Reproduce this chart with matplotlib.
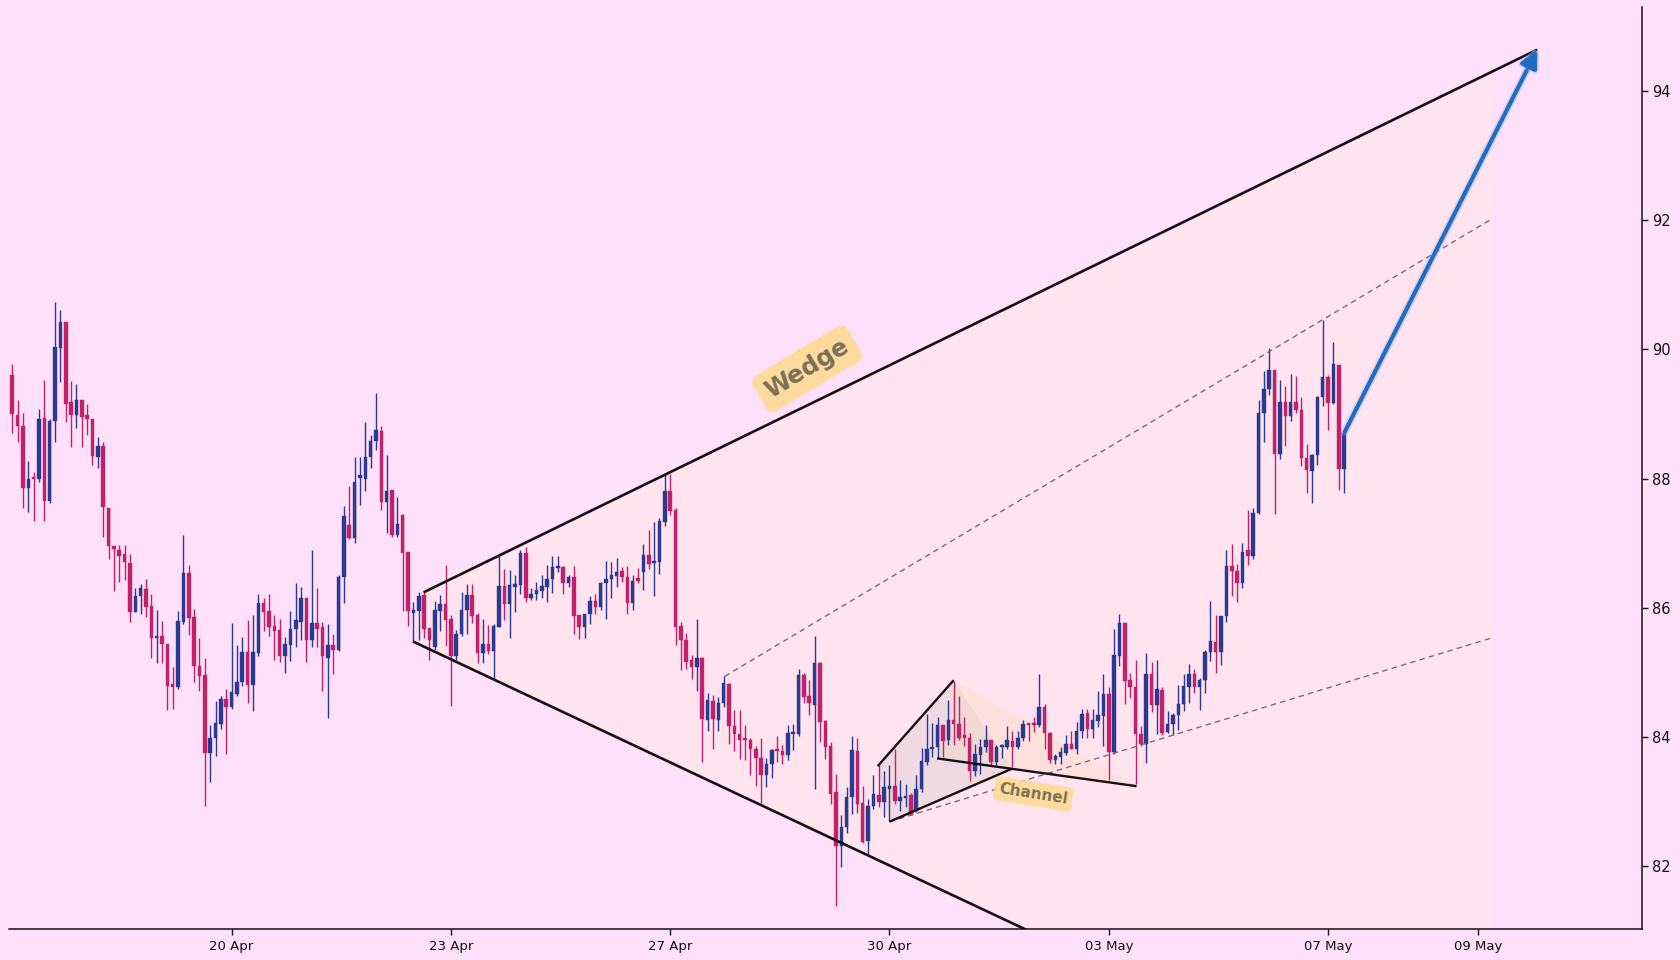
import matplotlib
matplotlib.use('Agg')
import matplotlib.pyplot as plt
from matplotlib.patches import Polygon, FancyArrowPatch
import matplotlib.patheffects as pe

opens = [89.60, 88.99, 88.82, 87.86, 88.01, 88.00, 88.94, 87.66, 88.89, 90.02,
         90.43, 89.18, 88.99, 89.22, 88.98, 88.93, 88.34, 88.51, 87.54, 86.96,
         86.90, 86.83, 86.69, 85.94, 86.18, 86.29, 86.03, 85.53, 85.57, 85.44,
         84.81, 84.77, 85.78, 86.54, 85.86, 85.10, 84.96, 83.76, 83.99, 84.20,
         84.59, 84.46, 84.67, 84.85, 85.32, 84.80, 85.30, 86.08, 85.95, 85.72,
         85.65, 85.25, 85.42, 85.68, 85.78, 86.16, 85.51, 85.76, 85.70, 85.23,
         85.42, 85.34, 86.48, 87.28, 87.08, 88.01, 87.99, 88.33, 88.58, 88.74,
         87.64, 87.82, 87.13, 87.44, 86.87, 85.92, 85.95, 86.20, 85.69, 85.40,
         85.95, 86.06, 85.82, 85.25, 85.60, 85.96, 86.20, 85.89, 85.30, 85.44,
         85.33, 85.71, 86.34, 86.06, 86.33, 86.35, 86.85, 86.16, 86.21, 86.26,
         86.33, 86.44, 86.61, 86.64, 86.38, 86.47, 85.89, 85.70, 85.90, 86.11,
         86.02, 86.39, 86.44, 86.49, 86.57, 86.48, 86.08, 86.46, 86.56, 86.82,
         86.69, 86.71, 87.33, 87.81, 87.52, 85.72, 85.51, 85.19, 85.09, 85.23,
         84.27, 84.56, 84.27, 84.52, 84.82, 84.17, 84.05, 83.96, 83.95, 83.82,
         83.68, 83.41, 83.58, 83.80, 83.78, 83.72, 84.04, 84.04, 84.96, 84.63,
         84.49, 85.14, 84.25, 83.86, 83.15, 82.31, 82.61, 83.07, 83.79, 82.98,
         82.39, 82.94, 83.11, 82.99, 83.20, 83.24, 83.01, 83.06, 83.10, 82.85,
         83.20, 83.61, 83.81, 83.85, 84.18, 83.95, 84.27, 84.21, 84.00, 83.99,
         83.47, 83.73, 83.84, 83.95, 83.61, 83.84, 83.85, 83.94, 83.85, 83.98,
         84.20, 84.20, 84.18, 84.46, 84.06, 83.64, 83.69, 83.75, 83.89, 83.82,
         84.10, 84.37, 84.13, 84.25, 84.32, 84.66, 83.77, 85.25, 85.77, 84.88,
         84.77, 84.04, 83.90, 84.97, 84.49, 84.73, 84.08, 84.21, 84.34, 84.51,
         84.78, 84.98, 84.78, 84.89, 85.32, 85.47, 85.32, 85.87, 86.65, 86.57,
         86.38, 86.90, 86.80, 87.47, 89.01, 89.38, 89.68, 88.38, 89.18, 88.97,
         89.18, 89.07, 88.32, 88.12, 88.37, 89.26, 89.58, 89.17, 89.76, 88.15]

highs = [89.78, 89.22, 89.02, 88.27, 88.10, 89.08, 89.53, 88.92, 90.73, 90.61,
         90.43, 89.51, 89.47, 89.22, 89.15, 88.93, 88.64, 88.56, 87.54, 86.96,
         86.98, 86.98, 86.84, 86.30, 86.37, 86.45, 86.22, 85.97, 85.79, 85.44,
         85.08, 85.95, 87.13, 86.67, 85.98, 85.54, 85.23, 84.18, 84.56, 84.63,
         84.75, 85.77, 85.42, 85.55, 85.81, 85.89, 86.22, 86.16, 86.21, 85.89,
         85.82, 85.55, 85.95, 86.38, 86.32, 86.16, 86.89, 86.30, 85.78, 85.75,
         85.59, 86.51, 87.58, 87.88, 88.33, 88.33, 88.88, 88.68, 89.32, 88.81,
         88.37, 87.82, 87.72, 87.46, 86.87, 86.09, 86.25, 86.26, 85.69, 86.11,
         86.20, 86.66, 85.89, 85.66, 86.25, 86.37, 86.37, 85.92, 85.82, 85.73,
         85.75, 86.80, 86.60, 86.58, 86.51, 86.89, 86.94, 86.30, 86.40, 86.51,
         86.66, 86.80, 86.80, 86.65, 86.51, 86.65, 85.89, 85.91, 86.18, 86.22,
         86.40, 86.73, 86.71, 86.77, 86.64, 86.65, 86.51, 86.61, 86.99, 87.20,
         87.33, 87.39, 88.07, 88.07, 87.54, 85.78, 85.61, 85.27, 85.82, 85.24,
         84.68, 84.65, 84.62, 84.94, 84.83, 84.42, 84.42, 84.18, 83.99, 83.86,
         83.99, 83.68, 83.82, 84.01, 83.87, 84.18, 84.21, 85.06, 84.99, 84.88,
         85.56, 85.16, 84.27, 83.92, 83.43, 82.80, 83.22, 84.01, 83.99, 83.24,
         83.04, 83.42, 83.56, 83.47, 83.56, 83.82, 83.33, 83.28, 83.13, 83.41,
         83.83, 84.36, 84.22, 84.31, 84.18, 84.58, 84.87, 84.63, 84.31, 84.06,
         83.89, 83.97, 84.18, 83.96, 83.87, 83.89, 84.17, 84.10, 84.10, 84.27,
         84.22, 84.31, 84.97, 84.51, 84.08, 83.74, 83.84, 84.03, 84.10, 84.23,
         84.44, 84.44, 84.44, 84.72, 84.97, 84.78, 85.68, 85.90, 85.78, 84.99,
         85.20, 84.17, 85.30, 85.16, 85.19, 84.77, 84.40, 84.37, 84.80, 84.97,
         85.13, 85.06, 84.92, 85.35, 86.11, 85.89, 85.87, 86.90, 86.99, 86.68,
         87.01, 87.51, 87.54, 89.22, 89.67, 90.02, 89.68, 89.52, 89.44, 89.62,
         89.59, 89.26, 88.54, 88.38, 89.28, 90.45, 89.61, 90.11, 89.76, 88.73]

lows = [88.71, 88.57, 87.54, 87.48, 87.35, 87.95, 87.34, 87.62, 88.56, 89.49,
        88.87, 88.49, 88.79, 88.49, 88.67, 88.21, 88.16, 87.09, 86.76, 86.26,
        86.40, 86.43, 85.78, 85.93, 85.91, 85.86, 85.23, 85.14, 85.14, 84.42,
        84.44, 84.75, 85.75, 85.58, 84.86, 84.71, 82.93, 83.30, 83.70, 84.13,
        83.74, 84.44, 84.63, 84.79, 84.53, 84.41, 85.25, 85.64, 85.56, 85.20,
        85.16, 84.99, 85.18, 85.40, 85.50, 85.16, 85.40, 85.40, 84.71, 84.30,
        84.98, 85.33, 86.08, 87.06, 87.01, 87.59, 87.81, 88.16, 88.44, 87.51,
        87.16, 87.09, 87.09, 85.95, 85.72, 85.49, 85.50, 85.54, 85.20, 85.35,
        85.64, 85.41, 84.48, 85.19, 85.56, 85.59, 85.77, 85.14, 85.14, 85.28,
        84.90, 85.71, 85.81, 85.53, 85.94, 86.22, 86.09, 86.12, 86.12, 86.15,
        86.09, 86.23, 86.56, 86.22, 86.33, 85.59, 85.52, 85.54, 85.75, 85.91,
        85.96, 85.83, 86.15, 86.33, 86.40, 85.90, 85.96, 86.38, 86.27, 86.60,
        86.18, 86.53, 87.26, 87.44, 85.42, 85.04, 85.06, 84.90, 84.72, 83.61,
        84.10, 83.82, 84.10, 84.46, 83.90, 83.78, 83.66, 83.65, 83.41, 83.25,
        82.98, 83.22, 83.37, 83.61, 83.58, 83.65, 83.80, 84.01, 84.53, 84.34,
        83.20, 83.92, 83.66, 82.97, 81.39, 81.99, 82.51, 82.81, 82.82, 82.36,
        82.17, 82.89, 82.92, 82.77, 82.70, 82.96, 82.85, 82.92, 82.79, 82.84,
        83.15, 83.56, 83.69, 83.68, 83.69, 83.87, 83.87, 83.96, 83.86, 83.32,
        83.39, 83.43, 83.77, 83.56, 83.56, 83.67, 83.82, 83.53, 83.82, 83.94,
        83.94, 84.08, 84.16, 83.82, 83.60, 83.58, 83.59, 83.73, 83.82, 83.74,
        83.99, 83.98, 83.99, 84.16, 83.86, 83.34, 83.74, 85.10, 84.51, 84.61,
        83.27, 83.86, 83.60, 84.39, 84.05, 84.03, 84.06, 84.03, 84.11, 84.41,
        84.53, 84.68, 84.42, 84.68, 85.18, 84.99, 85.11, 85.78, 86.18, 86.09,
        86.30, 86.66, 86.75, 87.46, 88.57, 89.30, 87.45, 88.30, 88.50, 88.89,
        89.01, 88.20, 87.78, 87.63, 88.21, 89.13, 88.75, 89.16, 87.82, 87.78]

closes = [89.00, 88.81, 87.85, 87.99, 87.99, 88.92, 87.66, 88.89, 90.03, 90.43,
          89.16, 88.99, 89.22, 88.95, 88.93, 88.35, 88.51, 87.56, 86.96, 86.91,
          86.80, 86.71, 85.94, 86.18, 86.30, 86.01, 85.53, 85.57, 85.44, 84.79,
          84.78, 85.79, 86.54, 85.84, 85.10, 84.94, 83.76, 83.99, 84.22, 84.59,
          84.46, 84.69, 84.86, 85.32, 84.80, 85.32, 86.08, 85.94, 85.70, 85.64,
          85.25, 85.44, 85.68, 85.81, 86.16, 85.51, 85.76, 85.68, 85.25, 85.42,
          85.35, 86.48, 87.42, 87.08, 87.95, 88.06, 88.33, 88.58, 88.75, 87.64,
          87.81, 87.13, 87.30, 86.85, 85.95, 85.97, 86.18, 85.68, 85.51, 85.96,
          86.06, 85.81, 85.25, 85.60, 85.96, 86.20, 85.88, 85.30, 85.44, 85.33,
          85.72, 86.34, 86.06, 86.35, 86.37, 86.85, 86.16, 86.22, 86.28, 86.34,
          86.44, 86.63, 86.64, 86.38, 86.47, 85.88, 85.70, 85.90, 86.11, 86.02,
          86.39, 86.44, 86.51, 86.56, 86.47, 86.08, 86.42, 86.42, 86.82, 86.68,
          86.73, 87.35, 87.81, 87.50, 85.71, 85.51, 85.16, 85.09, 85.23, 84.28,
          84.57, 84.28, 84.53, 84.83, 84.17, 84.04, 83.95, 83.95, 83.82, 83.68,
          83.41, 83.59, 83.80, 83.78, 83.72, 84.06, 84.06, 84.96, 84.62, 84.52,
          85.14, 84.23, 83.85, 83.12, 82.31, 82.61, 83.07, 83.80, 82.97, 82.37,
          82.94, 83.12, 82.99, 83.22, 83.24, 83.01, 83.07, 83.08, 82.80, 83.20,
          83.63, 83.82, 83.85, 84.18, 83.94, 84.27, 84.20, 83.99, 83.99, 83.47,
          83.74, 83.84, 83.95, 83.61, 83.84, 83.87, 83.95, 83.85, 83.98, 84.20,
          84.18, 84.18, 84.47, 84.06, 83.64, 83.70, 83.77, 83.90, 83.82, 84.10,
          84.36, 84.13, 84.26, 84.34, 84.67, 83.77, 85.27, 85.76, 84.87, 84.77,
          84.04, 83.89, 84.98, 84.49, 84.75, 84.06, 84.21, 84.34, 84.51, 84.79,
          84.97, 84.78, 84.89, 85.32, 85.49, 85.32, 85.87, 86.65, 86.57, 86.38,
          86.87, 86.80, 87.47, 89.01, 89.38, 89.68, 88.38, 89.18, 88.97, 89.18,
          89.06, 88.32, 88.13, 88.37, 89.26, 89.57, 89.17, 89.78, 88.15, 88.71]

# x-axis labels (candle index where each date label sits)
tick_positions = [41, 82, 123, 164, 205, 246, 274]
tick_labels = ['20 Apr', '23 Apr', '27 Apr', '30 Apr', '03 May', '07 May', '09 May']
y_ticks = [82, 84, 86, 88, 90, 92, 94]

# drawing anchors (candle index, price)
wedge_upper = [(76.9, 86.24), (285.1, 94.64)]
wedge_lower = [(74.9, 85.48), (285.1, 77.30)]
wedge_fill_end = 276.8
proj_upper = [(133.2, 84.94), (276.8, 92.03)]
proj_lower = [(164.0, 82.69), (276.8, 85.54)]
chan_upper = [(161.8, 83.55), (176.0, 84.88)]
chan_lower = [(164.0, 82.69), (186.9, 83.51)]
chan_break = [(172.9, 83.67), (210.2, 83.24)]
target_arrow = [(249.1, 88.72), (285.1, 94.64)]
wedge_label = (148.6, 89.70)
channel_label = (190.9, 83.12)

BG = '#FFE0FA'
UP = '#2B3990'
DOWN = '#C0226A'

fig = plt.figure(figsize=(16.8, 9.6), dpi=100)
fig.patch.set_facecolor(BG)
ax = fig.add_axes([0.0051, 0.032, 0.9723, 0.9607])
ax.set_facecolor(BG)

def interp(line, x):
    (x0, y0), (x1, y1) = line
    return y0 + (y1 - y0) * (x - x0) / (x1 - x0)

# wedge fill
poly = [wedge_lower[0], wedge_upper[0],
        (wedge_fill_end, interp(wedge_upper, wedge_fill_end)),
        (wedge_fill_end, interp(wedge_lower, wedge_fill_end))]
ax.add_patch(Polygon(poly, closed=True, facecolor='#FFE3EE', edgecolor='none', zorder=0.5))

# channel fills
grey_quad = [chan_upper[0], chan_upper[1], chan_lower[1], chan_lower[0]]
ax.add_patch(Polygon(grey_quad, closed=True, facecolor='#B8B8B0', alpha=0.2,
                     edgecolor='none', zorder=0.8))
peach_tri = [chan_upper[1], chan_break[1], chan_break[0]]
ax.add_patch(Polygon(peach_tri, closed=True, facecolor='#FFD9A8', alpha=0.25,
                     edgecolor='none', zorder=0.7))

# candles
for i in range(len(opens)):
    o, h, l, c = opens[i], highs[i], lows[i], closes[i]
    col = UP if c >= o else DOWN
    ax.vlines(i, l, h, color=col, lw=1.0, zorder=2)
    bottom = min(o, c)
    height = max(abs(c - o), 0.035)
    ax.bar(i, height, bottom=bottom, width=0.66, color=col, edgecolor=col,
           linewidth=0.3, zorder=3)

# projection dashed lines
for line in (proj_upper, proj_lower):
    ax.plot([p[0] for p in line], [p[1] for p in line], color='#7B6B78',
            lw=1.0, ls=(0, (4, 3)), zorder=4)

# wedge lines
for line in (wedge_upper, wedge_lower):
    ax.plot([p[0] for p in line], [p[1] for p in line], color='#141014',
            lw=1.9, zorder=5, solid_capstyle='butt')

# channel lines
for line in (chan_upper, chan_lower, chan_break):
    ax.plot([p[0] for p in line], [p[1] for p in line], color='#141014',
            lw=1.7, zorder=5, solid_capstyle='butt')

# target arrow
arr = FancyArrowPatch(target_arrow[0], target_arrow[1], arrowstyle='-|>',
                      mutation_scale=26, lw=3.0, color='#1F6BC6', zorder=6,
                      shrinkA=0, shrinkB=0)
arr.set_path_effects([pe.Stroke(linewidth=5.5, foreground='#8DB4E6', alpha=0.35), pe.Normal()])
ax.add_patch(arr)

# labels
ax.text(wedge_label[0], wedge_label[1], 'Wedge', fontsize=17.5, fontweight='bold',
        color='#7A7058', rotation=31, ha='center', va='center', zorder=7,
        bbox=dict(boxstyle='round,pad=0.35', facecolor='#FFD98F', edgecolor='none', alpha=0.85))
ax.text(channel_label[0], channel_label[1], 'Channel', fontsize=11, fontweight='bold',
        color='#7A7058', rotation=-9, ha='center', va='center', zorder=7,
        bbox=dict(boxstyle='round,pad=0.3', facecolor='#FFD98F', edgecolor='none', alpha=0.85))

ax.set_xlim(-0.69, 304.7)
ax.set_ylim(81.025, 95.30)
ax.set_xticks(tick_positions)
ax.set_xticklabels(tick_labels)
ax.set_yticks(y_ticks)
ax.yaxis.tick_right()
ax.yaxis.set_label_position('right')
ax.tick_params(axis='x', labelsize=9.5, length=4, width=1, colors='#111111')
ax.tick_params(axis='y', labelsize=10.5, length=4, width=1, colors='#111111')
for s in ('left', 'top'):
    ax.spines[s].set_visible(False)
for s in ('right', 'bottom'):
    ax.spines[s].set_color('#111111')
    ax.spines[s].set_linewidth(1.1)

fig.savefig('out.png', dpi=100, facecolor=BG)
